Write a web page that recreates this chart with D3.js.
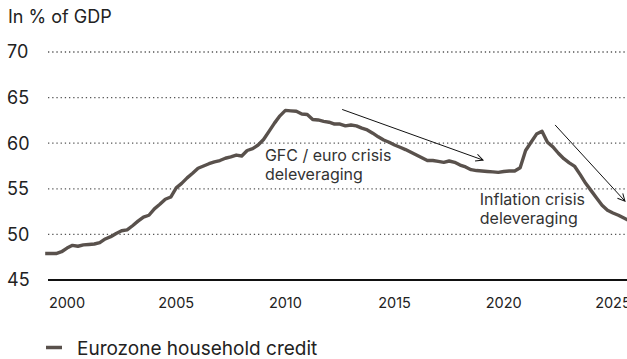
<!DOCTYPE html>
<html>
<head>
<meta charset="utf-8">
<script src="https://cdn.jsdelivr.net/npm/d3@7"></script>
<style>
  body { margin: 0; background: #fff; }
  text { font-family: Inter, "Noto Sans", sans-serif; fill: #222; }
</style>
</head>
<body>
<div id="chart"></div>
<script>
// quarterly values, 1999Q1 onwards, in % of GDP
const startYear = 1999;
const creditValues = [
  47.9, 47.9, 47.9, 48.1, 48.5, 48.8, 48.7, 48.85,
  48.9, 48.95, 49.1, 49.5, 49.75, 50.1, 50.4, 50.5,
  50.95, 51.45, 51.9, 52.1, 52.8, 53.3, 53.85, 54.1,
  55.1, 55.6, 56.2, 56.7, 57.25, 57.5, 57.75, 57.95,
  58.1, 58.35, 58.5, 58.7, 58.6, 59.2, 59.4, 59.8,
  60.4, 61.3, 62.2, 63.0, 63.6, 63.55, 63.5, 63.2,
  63.15, 62.6, 62.55, 62.4, 62.3, 62.1, 62.1, 61.9,
  62.0, 61.9, 61.65, 61.45, 61.1, 60.7, 60.35, 60.1,
  59.8, 59.55, 59.3, 59.0, 58.7, 58.4, 58.1, 58.1,
  58.0, 57.9, 58.05, 57.9, 57.6, 57.4, 57.1, 57.0,
  56.95, 56.9, 56.85, 56.8, 56.9, 56.95, 56.95, 57.3,
  59.2, 60.1, 61.0, 61.3, 60.1, 59.6, 58.9, 58.3,
  57.85, 57.45, 56.55, 55.6, 54.8, 54.0, 53.2, 52.65,
  52.35, 52.1, 51.8, 51.5
];
const yTicks = [45, 50, 55, 60, 65, 70];
const xTicks = [2000, 2005, 2010, 2015, 2020, 2025];
const seriesName = "Eurozone household credit";
const annotations = [
  { lines: ["GFC / euro crisis", "deleveraging"], year: 2009.06, value: 58.0,
    arrow: [[2012.6, 63.7], [2019.05, 58.15]] },
  { lines: ["Inflation crisis", "deleveraging"], year: 2018.9, value: 53.2,
    arrow: [[2022.35, 62.0], [2025.55, 53.65]] }
];

const data = creditValues.map((v, i) => ({ t: startYear + i / 4, v: v }));

const W = 627, H = 359;
const svg = d3.select("#chart").append("svg")
  .attr("width", W).attr("height", H)
  .attr("viewBox", `0 0 ${W} ${H}`);

const x = d3.scaleLinear().domain([1999, 2026]).range([45.2, 634.8]);
const y = d3.scaleLinear().domain([45, 70]).range([280, 52]);
const left = 48, right = W;

svg.append("defs").append("marker")
  .attr("id", "arrow")
  .attr("viewBox", "0 0 10 10")
  .attr("refX", 9).attr("refY", 5)
  .attr("markerWidth", 9).attr("markerHeight", 9)
  .attr("markerUnits", "userSpaceOnUse")
  .attr("orient", "auto")
  .append("path")
    .attr("d", "M1,1 L9,5 L1,9")
    .attr("fill", "none")
    .attr("stroke", "#111")
    .attr("stroke-width", 1.1);

// title
svg.append("text")
  .attr("x", 8).attr("y", 23)
  .style("font-size", "18px")
  .text("In % of GDP");

// gridlines
svg.append("g")
  .selectAll("line")
  .data(yTicks.filter(d => d !== 45))
  .join("line")
    .attr("x1", left).attr("x2", right)
    .attr("y1", d => y(d)).attr("y2", d => y(d))
    .attr("stroke", "#555")
    .attr("stroke-width", 1.3)
    .attr("stroke-dasharray", "1.3,2.9");

// baseline
svg.append("line")
  .attr("x1", left).attr("x2", right)
  .attr("y1", y(45)).attr("y2", y(45))
  .attr("stroke", "#111")
  .attr("stroke-width", 2);

// y labels
svg.append("g")
  .selectAll("text")
  .data(yTicks)
  .join("text")
    .attr("x", 7)
    .attr("y", d => y(d))
    .attr("dy", "0.36em")
    .style("font-size", "18px")
    .text(d => d);

// x labels
svg.append("g")
  .selectAll("text")
  .data(xTicks)
  .join("text")
    .attr("x", d => x(d))
    .attr("y", 308)
    .attr("text-anchor", "middle")
    .style("font-size", "14.5px")
    .text(d => d);

// the series
const line = d3.line()
  .x(d => x(d.t))
  .y(d => y(d.v));

svg.append("path")
  .datum(data)
  .attr("d", line)
  .attr("fill", "none")
  .attr("stroke", "#59514c")
  .attr("stroke-width", 3.4)
  .attr("stroke-linejoin", "round");

// annotations
annotations.forEach(a => {
  svg.append("line")
    .attr("x1", x(a.arrow[0][0])).attr("y1", y(a.arrow[0][1]))
    .attr("x2", x(a.arrow[1][0])).attr("y2", y(a.arrow[1][1]))
    .attr("stroke", "#111")
    .attr("stroke-width", 1)
    .attr("marker-end", "url(#arrow)");

  const t = svg.append("text")
    .attr("x", x(a.year))
    .attr("y", y(a.value))
    .style("font-size", "16px")
    .style("fill", "#333");
  a.lines.forEach((l, i) => {
    t.append("tspan")
      .attr("x", x(a.year))
      .attr("dy", i === 0 ? 0 : 18.5)
      .text(l);
  });
});

// legend
svg.append("line")
  .attr("x1", 46).attr("x2", 62)
  .attr("y1", 347.5).attr("y2", 347.5)
  .attr("stroke", "#59514c")
  .attr("stroke-width", 3.5);

svg.append("text")
  .attr("x", 77).attr("y", 355)
  .style("font-size", "19px")
  .text(seriesName);
</script>
</body>
</html>
